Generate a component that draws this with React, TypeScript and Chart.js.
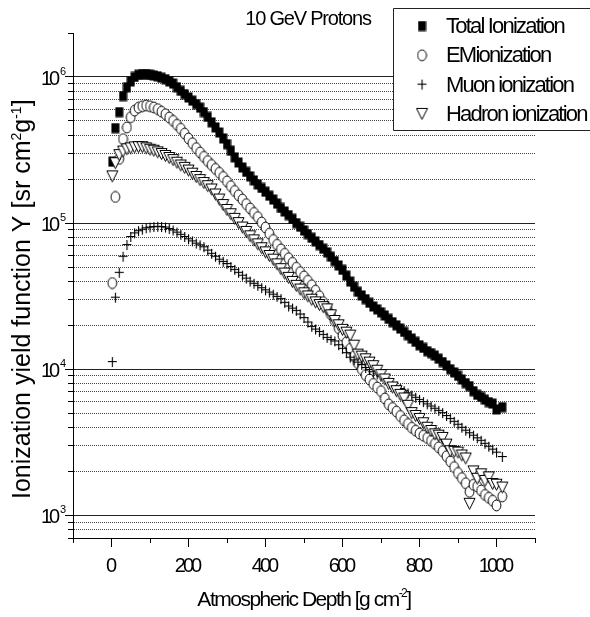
import React, { useEffect, useRef } from 'react';
import { Chart, registerables } from 'chart.js';

Chart.register(...registerables);

// Atmospheric depth grid [g cm^-2] shared by all four series
const DEPTH = [
  2,
  10, 20, 30, 40, 50, 60, 70, 80, 90, 100,
  110, 120, 130, 140, 150, 160, 170, 180, 190, 200,
  210, 220, 230, 240, 250, 260, 270, 280, 290, 300,
  310, 320, 330, 340, 350, 360, 370, 380, 390, 400,
  410, 420, 430, 440, 450, 460, 470, 480, 490, 500,
  510, 520, 530, 540, 550, 560, 570, 580, 590, 600,
  610, 620, 630, 640, 650, 660, 670, 680, 690, 700,
  710, 720, 730, 740, 750, 760, 770, 780, 790, 800,
  810, 820, 830, 840, 850, 860, 870, 880, 890, 900,
  910, 920, 930, 940, 950, 960, 970, 980, 990, 1000,
  1015,
];

// Ionization yield function Y [sr cm^2 g^-1]
const TOTAL = [
  2.63e5,
  4.47e5, 5.75e5, 7.41e5, 8.51e5, 9.33e5, 1.0e6, 1.035e6, 1.047e6, 1.047e6, 1.035e6,
  1.023e6, 1.012e6, 9.89e5, 9.66e5, 9.33e5, 9.02e5, 8.51e5, 8.04e5, 7.64e5, 7.24e5,
  6.89e5, 6.53e5, 6.17e5, 5.75e5, 5.33e5, 4.9e5, 4.52e5, 4.17e5, 3.8e5, 3.47e5,
  3.13e5, 2.82e5, 2.6e5, 2.4e5, 2.24e5, 2.09e5, 1.96e5, 1.84e5, 1.74e5, 1.64e5,
  1.54e5, 1.45e5, 1.36e5, 1.27e5, 1.2e5, 1.135e5, 1.07e5, 1.0e5, 9.44e4, 8.91e4,
  8.41e4, 7.94e4, 7.5e4, 7.08e4, 6.68e4, 6.31e4, 5.89e4, 5.5e4, 5.13e4, 4.79e4,
  4.37e4, 3.98e4, 3.67e4, 3.39e4, 3.2e4, 3.02e4, 2.85e4, 2.69e4, 2.57e4, 2.45e4,
  2.33e4, 2.21e4, 2.1e4, 2.0e4, 1.9e4, 1.8e4, 1.71e4, 1.62e4, 1.54e4, 1.46e4,
  1.4e4, 1.33e4, 1.29e4, 1.24e4, 1.18e4, 1.12e4, 1.06e4, 1.0e4, 9.51e3, 9.02e3,
  8.51e3, 8.04e3, 7.67e3, 7.08e3, 6.68e3, 6.46e3, 6.19e3, 5.96e3, 5.82e3, 5.31e3,
  5.5e3,
];
const EM = [
  3.89e4,
  1.51e5, 2.75e5, 3.76e5, 4.52e5, 5.31e5, 5.89e5, 6.17e5, 6.31e5, 6.38e5, 6.31e5,
  6.19e5, 6.03e5, 5.79e5, 5.56e5, 5.28e5, 5.01e5, 4.71e5, 4.42e5, 4.1e5, 3.8e5,
  3.52e5, 3.26e5, 3.04e5, 2.84e5, 2.66e5, 2.5e5, 2.35e5, 2.21e5, 2.07e5, 1.93e5,
  1.79e5, 1.66e5, 1.55e5, 1.45e5, 1.35e5, 1.26e5, 1.175e5, 1.1e5, 1.01e5, 9.33e4,
  8.47e4, 7.67e4, 7.11e4, 6.61e4, 6.17e4, 5.75e4, 5.35e4, 4.95e4, 4.62e4, 4.32e4,
  4.03e4, 3.76e4, 3.45e4, 3.16e4, 2.88e4, 2.63e4, 2.37e4, 2.14e4, 1.91e4, 1.7e4,
  1.53e4, 1.38e4, 1.23e4, 1.1e4, 1.0e4, 9.12e3, 8.51e3, 7.94e3, 7.5e3, 7.08e3,
  6.31e3, 5.75e3, 5.43e3, 5.13e3, 4.79e3, 4.47e3, 4.22e3, 3.98e3, 3.8e3, 3.63e3,
  3.51e3, 3.39e3, 3.24e3, 3.09e3, 2.92e3, 2.75e3, 2.54e3, 2.34e3, 2.14e3, 1.95e3,
  1.8e3, 1.66e3, 1.45e3, 1.62e3, 1.58e3, 1.48e3, 1.38e3, 1.32e3, 1.26e3, 1.17e3,
  1.35e3,
];
const MUON = [
  1.12e4,
  3.09e4, 4.57e4, 5.89e4, 7.08e4, 8.04e4, 8.51e4, 8.81e4, 9.02e4, 9.23e4, 9.33e4,
  9.4e4, 9.44e4, 9.4e4, 9.33e4, 9.12e4, 8.91e4, 8.61e4, 8.32e4, 8.04e4, 7.76e4,
  7.5e4, 7.24e4, 7.05e4, 6.84e4, 6.49e4, 6.17e4, 5.89e4, 5.62e4, 5.43e4, 5.25e4,
  5.01e4, 4.79e4, 4.57e4, 4.37e4, 4.17e4, 3.98e4, 3.85e4, 3.72e4, 3.59e4, 3.47e4,
  3.35e4, 3.24e4, 3.13e4, 3.02e4, 2.85e4, 2.69e4, 2.6e4, 2.51e4, 2.37e4, 2.24e4,
  2.09e4, 1.95e4, 1.87e4, 1.8e4, 1.72e4, 1.64e4, 1.585e4, 1.55e4, 1.46e4, 1.38e4,
  1.29e4, 1.2e4, 1.15e4, 1.11e4, 1.07e4, 1.02e4, 9.89e3, 9.55e3, 9.23e3, 8.91e3,
  8.55e3, 8.22e3, 7.91e3, 7.59e3, 7.33e3, 7.08e3, 6.84e3, 6.61e3, 6.38e3, 6.17e3,
  5.96e3, 5.75e3, 5.56e3, 5.37e3, 5.19e3, 5.01e3, 4.79e3, 4.57e3, 4.37e3, 4.17e3,
  3.98e3, 3.8e3, 3.65e3, 3.51e3, 3.37e3, 3.24e3, 3.09e3, 2.95e3, 2.82e3, 2.69e3,
  2.51e3,
];
const HADRON = [
  2.09e5,
  2.57e5, 2.92e5, 3.09e5, 3.2e5, 3.25e5, 3.3e5, 3.31e5, 3.31e5, 3.25e5, 3.18e5,
  3.13e5, 3.05e5, 2.97e5, 2.88e5, 2.79e5, 2.7e5, 2.59e5, 2.48e5, 2.39e5, 2.29e5,
  2.18e5, 2.07e5, 1.97e5, 1.88e5, 1.79e5, 1.7e5, 1.57e5, 1.45e5, 1.33e5, 1.23e5,
  1.15e5, 1.07e5, 1.0e5, 9.33e4, 8.71e4, 8.13e4, 7.62e4, 7.16e4, 6.73e4, 6.31e4,
  5.96e4, 5.62e4, 5.22e4, 4.84e4, 4.52e4, 4.22e4, 3.96e4, 3.72e4, 3.51e4, 3.31e4,
  3.15e4, 2.99e4, 2.87e4, 2.75e4, 2.66e4, 2.57e4, 2.34e4, 2.14e4, 2.0e4, 1.86e4,
  1.78e4, 1.7e4, 1.45e4, 1.26e4, 1.22e4, 1.17e4, 1.11e4, 1.05e4, 9.77e3, 9.12e3,
  8.51e3, 7.94e3, 7.5e3, 7.08e3, 6.68e3, 6.31e3, 5.62e3, 5.01e3, 4.79e3, 4.57e3,
  4.27e3, 3.98e3, 3.78e3, 3.59e3, 3.51e3, 3.39e3, 3.05e3, 2.75e3, 2.72e3, 2.69e3,
  2.57e3, 2.45e3, 1.2e3, 2.0e3, 1.78e3, 1.91e3, 1.72e3, 1.82e3, 1.64e3, 1.62e3,
  1.55e3,
];

const TITLE = '10 GeV Protons';
const LEGEND_LABELS = ['Total Ionization', 'EMionization', 'Muon ionization', 'Hadron ionization'];
const X_MIN = -100;
const X_MAX = 1100;
const X_TICKS = [-100, 0, 100, 200, 300, 400, 500, 600, 700, 800, 900, 1000, 1100];
const X_TICK_LABELS = [0, 200, 400, 600, 800, 1000];
const Y_MIN = 700;
const Y_MAX = 2e6;
const Y_DECADES = [3, 4, 5, 6];
const Y_GRID = [
  800, 900,
  1000, 2000, 3000, 4000, 5000, 6000, 7000, 8000, 9000,
  1e4, 2e4, 3e4, 4e4, 5e4, 6e4, 7e4, 8e4, 9e4,
  1e5, 2e5, 3e5, 4e5, 5e5, 6e5, 7e5, 8e5, 9e5,
  1e6,
];
const Y_TICKS = [Y_MIN, ...Y_GRID, Y_MAX];

const FONT = '"Liberation Sans", Arial, Helvetica, sans-serif';

type Seg = { t: string; sup?: boolean };
const X_TITLE: Seg[] = [{ t: 'Atmospheric Depth [g cm' }, { t: '-2', sup: true }, { t: ']' }];
const Y_TITLE: Seg[] = [
  { t: 'Ionization yield function Y [sr cm' },
  { t: '2', sup: true },
  { t: 'g' },
  { t: '-1', sup: true },
  { t: ']' },
];

const isDecade = (v: number | undefined) =>
  v !== undefined && Math.abs(Math.log10(v) - Math.round(Math.log10(v))) < 1e-9;

function setFont(ctx: CanvasRenderingContext2D, size: number, spacing: number) {
  ctx.font = `${size}px ${FONT}`;
  (ctx as any).letterSpacing = `${spacing}px`;
}

function richWidth(ctx: CanvasRenderingContext2D, segs: Seg[], size: number, supSize: number, spacing: number) {
  let w = 0;
  for (const s of segs) {
    setFont(ctx, s.sup ? supSize : size, spacing);
    w += ctx.measureText(s.t).width;
  }
  return w;
}

function drawRich(
  ctx: CanvasRenderingContext2D,
  segs: Seg[],
  x: number,
  y: number,
  size: number,
  supSize: number,
  spacing: number,
  raise: number,
) {
  let cx = x;
  ctx.textAlign = 'left';
  ctx.textBaseline = 'alphabetic';
  for (const s of segs) {
    setFont(ctx, s.sup ? supSize : size, spacing);
    ctx.fillText(s.t, cx, s.sup ? y - raise : y);
    cx += ctx.measureText(s.t).width;
  }
}

function makeCanvas(w: number, h: number, paint: (g: CanvasRenderingContext2D) => void) {
  const c = document.createElement('canvas');
  c.width = w;
  c.height = h;
  paint(c.getContext('2d')!);
  return c;
}

function makeMarkers() {
  const square = makeCanvas(9, 11, (g) => {
    g.fillStyle = '#000';
    g.fillRect(0.5, 0.5, 8, 10);
  });
  const ellipse = makeCanvas(11, 13, (g) => {
    g.beginPath();
    g.ellipse(5.5, 6.5, 4.4, 5.4, 0, 0, Math.PI * 2);
    g.fillStyle = '#fff';
    g.fill();
    g.lineWidth = 1;
    g.strokeStyle = '#000';
    g.stroke();
  });
  const cross = makeCanvas(11, 12, (g) => {
    g.fillStyle = '#000';
    g.fillRect(1, 5, 9, 1.1);
    g.fillRect(5, 1, 1.1, 10);
  });
  const triangle = makeCanvas(13, 14, (g) => {
    g.beginPath();
    g.moveTo(1, 1.5);
    g.lineTo(12, 1.5);
    g.lineTo(6.5, 12.5);
    g.closePath();
    g.fillStyle = '#fff';
    g.fill();
    g.lineWidth = 1;
    g.strokeStyle = '#000';
    g.stroke();
  });
  return { square, ellipse, cross, triangle };
}

const alignPx = (p: number) => Math.round(p - 0.5) + 0.5;

export default function App() {
  const ref = useRef<HTMLCanvasElement>(null);

  useEffect(() => {
    const canvas = ref.current;
    if (!canvas) return;
    const m = makeMarkers();
    const legendMarkers = [m.square, m.ellipse, m.cross, m.triangle];

    const series = (vals: number[]) => DEPTH.map((x, i) => ({ x, y: vals[i] }));

    const decorations = {
      id: 'decorations',
      afterDraw(chart: any) {
        const { ctx, chartArea: a, scales } = chart;
        const xs = scales.x;
        const ys = scales.y;
        ctx.save();
        ctx.fillStyle = '#000';
        ctx.strokeStyle = '#000';
        ctx.lineWidth = 1;

        // tick marks: long at labelled values, short in between
        ctx.beginPath();
        for (const v of X_TICKS) {
          const px = alignPx(xs.getPixelForValue(v));
          const len = v % 200 === 0 ? 9 : 5;
          ctx.moveTo(px, a.bottom);
          ctx.lineTo(px, a.bottom + len);
        }
        for (const v of Y_TICKS) {
          const py = alignPx(ys.getPixelForValue(v));
          const len = isDecade(v) ? 8 : 5;
          ctx.moveTo(a.left, py);
          ctx.lineTo(a.left - len, py);
        }
        ctx.stroke();

        // x tick labels
        setFont(ctx, 20, -3);
        ctx.textAlign = 'center';
        ctx.textBaseline = 'alphabetic';
        for (const v of X_TICK_LABELS) {
          ctx.fillText(String(v), xs.getPixelForValue(v) - 1.5, a.bottom + 34);
        }

        // y tick labels as powers of ten
        for (const d of Y_DECADES) {
          const py = ys.getPixelForValue(10 ** d);
          ctx.textAlign = 'left';
          setFont(ctx, 20, -3);
          ctx.fillText('10', a.left - 32, py + 8);
          setFont(ctx, 11, 0);
          ctx.fillText(String(d), a.left - 13, py - 2);
        }

        // axis titles
        const xw = richWidth(ctx, X_TITLE, 21, 12, -1.5);
        drawRich(ctx, X_TITLE, (a.left + a.right) / 2 - xw / 2, a.bottom + 68, 21, 12, -1.5, 9);

        ctx.save();
        ctx.translate(30, 499);
        ctx.rotate(-Math.PI / 2);
        drawRich(ctx, Y_TITLE, 0, 0, 25, 14, 0, 9);
        ctx.restore();

        // title
        setFont(ctx, 20, -1.2);
        ctx.textAlign = 'center';
        ctx.textBaseline = 'alphabetic';
        ctx.fillText(TITLE, 308, 25);

        // legend box
        ctx.beginPath();
        ctx.rect(393.5, 8.5, 230, 122);
        ctx.fillStyle = '#fff';
        ctx.fill();
        ctx.strokeStyle = '#222';
        ctx.stroke();
        ctx.fillStyle = '#000';
        LEGEND_LABELS.forEach((label, i) => {
          const base = 33 + i * 29.3;
          const mk = legendMarkers[i];
          ctx.drawImage(mk, 422 - mk.width / 2, base - 7 - mk.height / 2);
          setFont(ctx, 22, -1.8);
          ctx.textAlign = 'left';
          ctx.textBaseline = 'alphabetic';
          ctx.fillText(label, 446, base);
        });

        (ctx as any).letterSpacing = '0px';
        ctx.restore();
      },
    };

    const chart = new Chart(canvas, {
      type: 'scatter',
      data: {
        datasets: [
          { label: LEGEND_LABELS[0], data: series(TOTAL), pointStyle: m.square, radius: 5, hoverRadius: 5, order: 4 },
          { label: LEGEND_LABELS[1], data: series(EM), pointStyle: m.ellipse, radius: 5, hoverRadius: 5, order: 3 },
          { label: LEGEND_LABELS[2], data: series(MUON), pointStyle: m.cross, radius: 5, hoverRadius: 5, order: 2 },
          { label: LEGEND_LABELS[3], data: series(HADRON), pointStyle: m.triangle, radius: 5, hoverRadius: 5, order: 1 },
        ] as any,
      },
      options: {
        responsive: false,
        devicePixelRatio: 1,
        animation: false,
        events: [],
        layout: { padding: { left: 73, right: 55, top: 33, bottom: 79 } },
        plugins: {
          legend: { display: false },
          tooltip: { enabled: false },
          title: { display: false },
        },
        scales: {
          x: {
            type: 'linear',
            min: X_MIN,
            max: X_MAX,
            afterFit: (s: any) => {
              s.height = 0;
            },
            ticks: { display: false, stepSize: 100 },
            grid: { display: false, drawTicks: false },
            border: { display: true, color: '#000', width: 1 },
          },
          y: {
            type: 'logarithmic',
            min: Y_MIN,
            max: Y_MAX,
            afterBuildTicks: (s: any) => {
              s.ticks = Y_GRID.map((value) => ({ value }));
            },
            afterFit: (s: any) => {
              s.width = 0;
            },
            ticks: { display: false },
            grid: {
              drawTicks: false,
              lineWidth: 1,
              color: (c: any) => (isDecade(c.tick?.value) ? '#222' : '#444'),
            },
            border: {
              display: true,
              color: '#000',
              width: 1,
              dash: (c: any) => (c.tick && !isDecade(c.tick.value) ? [1, 1] : []),
            },
          },
        } as any,
      },
      plugins: [decorations],
    });

    return () => chart.destroy();
  }, []);

  return (
    <div style={{ position: 'absolute', left: 0, top: 0, width: 590, height: 617, background: '#fff' }}>
      <canvas ref={ref} width={590} height={617} style={{ display: 'block', width: 590, height: 617 }} />
    </div>
  );
}
